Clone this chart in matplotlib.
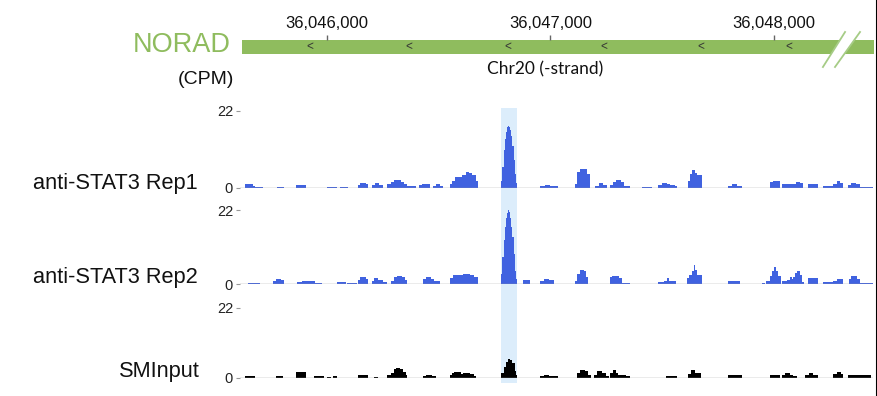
import matplotlib
matplotlib.use("Agg")
import matplotlib.pyplot as plt
from matplotlib.lines import Line2D
import numpy as np

plt.rcParams['font.family'] = ['Liberation Sans', 'DejaVu Sans']

# region start; positions below are bp offsets from here
region_start = 36045600

gene_name = "NORAD"
strand_label = "Chr20 (-strand)"
coord_ticks = [36046000, 36047000, 36048000]
coord_labels = ["36,046,000", "36,047,000", "36,048,000"]
chevron_off = [324, 767, 1210, 1640, 2074, 2467]

track_names = ["anti-STAT3 Rep1", "anti-STAT3 Rep2", "SMInput"]
y_max = 22

# coverage (CPM), step values: each value holds until the next position
rep1_pos = [0, 35, 50, 70, 80, 115,
            175, 210, 260, 305,
            400, 445, 460, 495,
            540, 550, 575, 585,
            600, 615, 635, 650,
            670, 685, 700, 715, 730, 745, 760, 800,
            810, 825, 845, 860,
            875, 890, 905, 920,
            950, 960, 975, 990, 1005, 1020, 1035, 1050, 1065, 1075,
            1180, 1185, 1190, 1195, 1200, 1205, 1210, 1215, 1220, 1225, 1230, 1235, 1240, 1245, 1250,
            1355, 1375, 1400, 1435,
            1510, 1520, 1530, 1550, 1565, 1575,
            1600, 1615, 1635, 1655,
            1665, 1680, 1695, 1715, 1730, 1755,
            1810, 1855,
            1880, 1900, 1920, 1935, 1955, 1965,
            2015, 2025, 2035, 2045, 2055, 2080,
            2195, 2210, 2235, 2255,
            2380, 2395, 2425, 2435, 2485, 2500, 2515, 2530,
            2550, 2595,
            2620, 2665, 2680, 2695, 2710,
            2730, 2745, 2765, 2785, 2845]
rep1_cpm = [0, 1.0, 1.2, 0.5, 0.2, 0,
            0.3, 0, 0.8, 0,
            0.2, 0, 0.3, 0,
            0.8, 1.4, 1.0, 0,
            0.8, 1.4, 0.9, 0,
            1.0, 1.8, 2.4, 2.2, 1.6, 1.0, 0.5, 0,
            0.8, 1.2, 1.0, 0,
            0.6, 1.0, 0.7, 0,
            1.0, 2.0, 3.0, 3.2, 3.6, 4.5, 4.2, 3.8, 2.0, 0,
            2.0, 6.0, 11.0, 14.0, 16.0, 17.3, 17.8, 17.5, 16.5, 15.0, 12.0, 8.0, 4.0, 1.5, 0,
            0.5, 0.8, 0.5, 0,
            1.0, 4.5, 5.5, 5.3, 4.0, 0,
            0.6, 1.4, 0.8, 0,
            0.8, 1.6, 2.2, 1.6, 0.6, 0,
            0.3, 0,
            0.8, 1.4, 1.0, 0.8, 0.6, 0,
            2.0, 4.0, 5.0, 4.3, 3.8, 0,
            0.5, 1.0, 0.6, 0,
            1.6, 1.9, 0, 1.1, 1.2, 1.7, 1.4, 0,
            1.2, 0,
            0.5, 1.0, 1.9, 1.4, 0,
            0.8, 1.5, 1.0, 0.2, 0]

rep2_pos = [0, 45, 100,
            160, 170, 195, 210,
            265, 290, 320, 345, 380,
            445, 485, 490, 535,
            540, 550, 575, 585,
            600, 610, 630, 650, 670,
            685, 700, 715, 735, 750, 760,
            830, 845, 865, 880, 905,
            950, 965, 985, 1010, 1040, 1060, 1075,
            1180, 1185, 1190, 1195, 1200, 1205, 1210, 1215, 1220, 1225, 1230, 1235, 1240, 1245, 1250,
            1275, 1310,
            1355, 1370, 1395, 1415,
            1510, 1520, 1530, 1550, 1560, 1570,
            1665, 1675, 1705, 1720, 1755,
            1880, 1910, 1920, 1930, 1960,
            2010, 2020, 2035, 2040, 2048, 2055, 2080,
            2195, 2250,
            2345, 2360, 2365, 2380, 2390, 2398, 2408, 2418, 2430,
            2435, 2460, 2470, 2480, 2485, 2495, 2505, 2515, 2525, 2535,
            2550, 2595,
            2620, 2665, 2680, 2710,
            2735, 2745, 2770, 2785, 2845]
rep2_cpm = [0, 0.4, 0,
            0.8, 1.6, 1.2, 0,
            0.6, 0.8, 0.9, 0.2, 0,
            0.5, 0, 0.3, 0,
            1.2, 2.0, 1.6, 0,
            0.8, 1.8, 1.2, 0.6, 0,
            1.0, 2.0, 2.5, 2.2, 1.2, 0,
            1.4, 2.1, 1.6, 0.8, 0,
            1.8, 2.6, 2.8, 2.9, 2.8, 2.0, 0,
            3.0, 8.0, 13.0, 17.0, 19.5, 21.0, 22.0, 21.5, 19.5, 17.0, 14.0, 9.0, 4.0, 1.5, 0,
            1.1, 0,
            0.8, 1.6, 1.2, 0,
            1.0, 3.0, 4.3, 3.8, 2.0, 0,
            2.0, 2.5, 1.8, 0.3, 0,
            0.7, 1.0, 1.7, 1.0, 0,
            1.8, 2.8, 4.0, 5.7, 4.2, 2.8, 0,
            1.0, 0,
            0.3, 0, 0.8, 2.5, 4.0, 5.0, 4.0, 2.5, 0,
            1.0, 1.3, 2.0, 1.4, 2.0, 3.2, 3.8, 2.8, 0.5, 0,
            1.8, 0,
            0.6, 1.0, 1.6, 0,
            1.6, 2.5, 1.5, 0.2, 0]

input_pos = [0, 35, 80,
             170, 205,
             260, 305,
             340, 385, 400, 420, 425, 445,
             540, 585,
             610, 630,
             670, 685, 700, 710, 725, 740, 755, 760,
             830, 845, 870, 890,
             950, 960, 970, 1000, 1010, 1040, 1060, 1065,
             1180, 1190, 1200, 1210, 1220, 1230, 1240, 1245, 1250,
             1355, 1370, 1395, 1435,
             1520, 1530, 1555, 1570, 1580,
             1595, 1610, 1630, 1650, 1660,
             1665, 1680, 1695, 1700, 1740, 1755,
             1915, 1965,
             2015, 2030, 2045, 2075,
             2195, 2255,
             2380, 2425,
             2435, 2450, 2470, 2485, 2505,
             2540, 2555, 2575, 2595,
             2665, 2680, 2700, 2710,
             2730, 2780, 2835]
input_cpm = [0, 0.5, 0,
             0.4, 0,
             1.7, 0,
             0.5, 0, 0.3, 0, 0.5, 0,
             1.0, 0,
             0.3, 0,
             0.8, 1.6, 2.6, 3.1, 2.6, 1.8, 1.0, 0,
             0.5, 0.8, 0.5, 0,
             0.8, 1.4, 1.7, 1.2, 1.6, 1.2, 0.6, 0,
             1.5, 3.5, 5.0, 5.9, 5.5, 4.5, 2.0, 0.8, 0,
             0.5, 1.0, 0.6, 0,
             1.5, 2.3, 2.0, 1.0, 0,
             1.0, 2.1, 1.4, 0.5, 0,
             1.5, 2.3, 1.6, 1.0, 0.6, 0,
             0.5, 0,
             1.2, 2.3, 1.5, 0,
             0.7, 0,
             1.0, 0,
             1.0, 1.5, 1.0, 0.4, 0,
             0.8, 1.4, 1.0, 0,
             1.2, 1.7, 1.2, 0,
             0.7, 0.7, 0]

highlight = (36046780, 36046850)
gene_start, gene_end = 36045620, 36048447
break_at = (36048219, 36048273)  # two slash marks

blue = '#4062e0'
green = '#8fbc5e'

W, H = 878, 396
fig = plt.figure(figsize=(W / 100, H / 100), dpi=100)


def fx(px):
    return px / W


def fy(py):
    return 1 - py / H


bp_per_px = 4.474
x0 = region_start + 11
xlim_tracks = (x0, x0 + 633 * bp_per_px)

# light blue highlight behind all tracks
bg = fig.add_axes([fx(240), fy(383), 633 / W, (383 - 108) / H])
bg.set_xlim(xlim_tracks)
bg.axvspan(*highlight, color='#dcedfb', lw=0)
bg.axis('off')

# gene / coordinate header
gax = fig.add_axes([fx(240), fy(80), 638 / W, 60 / H])
gax.set_xlim(x0, x0 + 638 * bp_per_px)
gax.set_ylim(80, 20)
gax.axis('off')
gax.fill_between([gene_start, gene_end], 40, 54, color=green, lw=0)
gax.vlines(coord_ticks, 35, 40, color='#666666', lw=1)
for t, lab in zip(coord_ticks, coord_labels):
    gax.text(t, 24, lab, ha='center', va='center', fontsize=12, color='#111111')
for c in chevron_off:
    gax.text(region_start + c, 47, '<', ha='center', va='center', fontsize=8.5, color='#333333')
# break mark
dx1, dx2 = 99, 112
gax.fill([break_at[0], break_at[0] + dx1, break_at[1] + dx2, break_at[1]], [67, 32, 32, 67],
         color='white', lw=0, zorder=3)
for b, d in zip(break_at, (dx1, dx2)):
    gax.plot([b, b + d], [67, 32], color='#a6cc86', lw=1.3, zorder=4)

fig.text(fx(231), fy(45), gene_name, ha='right', va='center', fontsize=19.5, color=green)
fig.text(fx(545), fy(69), strand_label, ha='center', va='center', fontsize=12.5,
         family=['Lato', 'DejaVu Sans'], color='#111111')
fig.text(fx(234), fy(80), "(CPM)", ha='right', va='center', fontsize=14, color='#111111')

tracks = [(rep1_pos, rep1_cpm, blue, 111, 188, 183, 198),
          (rep2_pos, rep2_cpm, blue, 210, 284, 277, 198),
          (input_pos, input_cpm, 'black', 307.7, 377.7, 372, 200)]

for (pos, cpm, col, top, base, ly, lx), name in zip(tracks, track_names):
    ax = fig.add_axes([fx(240), fy(base), 633 / W, (base - top) / H])
    ax.set_facecolor('none')
    x = region_start + np.array(pos)
    ax.fill_between(x, np.array(cpm), step='post', color=col, lw=0)
    ax.axhline(0, color='#9a9a9a', lw=1)
    ax.set_xlim(xlim_tracks)
    ax.set_ylim(0, y_max)
    for s in ax.spines.values():
        s.set_visible(False)
    ax.set_xticks([])
    ax.set_yticks([0, y_max])
    ax.tick_params(axis='y', length=3, width=0.8, color='#999999', pad=2,
                   labelsize=10.5, labelcolor='#222222')
    fig.text(fx(lx), fy(ly), name, ha='right', va='center', fontsize=15.7, color='#111111')

# right border of the panel
fig.add_artist(Line2D([fx(877), fx(877)], [0, 1], color='black', lw=1.5))

fig.savefig('out.png', dpi=100)
